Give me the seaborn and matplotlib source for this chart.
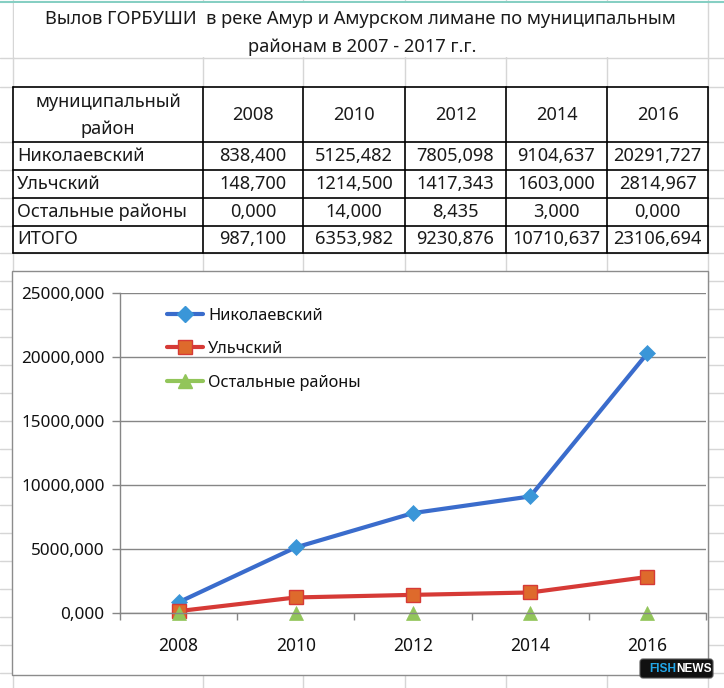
import matplotlib
matplotlib.use('Agg')
import matplotlib.pyplot as plt
import seaborn as sns
import pandas as pd
from matplotlib.lines import Line2D
from matplotlib.patches import Rectangle, FancyBboxPatch
from matplotlib.ticker import FuncFormatter, MultipleLocator

# ---------------- data ----------------
years = ['2008', '2010', '2012', '2014', '2016']
districts = ['Николаевский', 'Ульчский', 'Остальные районы']
nikolaevsky = [838.400, 5125.482, 7805.098, 9104.637, 20291.727]
ulchsky = [148.700, 1214.500, 1417.343, 1603.000, 2814.967]
others = [0.000, 14.000, 8.435, 3.000, 0.000]
total = [987.100, 6353.982, 9230.876, 10710.637, 23106.694]
total_label = 'ИТОГО'
header_label = ['муниципальный', 'район']
title_lines = ['Вылов ГОРБУШИ  в реке Амур и Амурском лимане по муниципальным',
               'районам в 2007 - 2017 г.г.']
y_max, y_step = 25000, 5000


def fmt(v):
    return f"{v:.3f}".replace('.', ',')


sns.set_theme(style='white')
plt.rcParams['font.family'] = ['Noto Sans', 'DejaVu Sans']

W, H = 724, 688
fig = plt.figure(figsize=(W / 100, H / 100), dpi=100)
fig.patch.set_facecolor('white')

# ---------- background "spreadsheet" axes in pixel coordinates ----------
bg = fig.add_axes([0, 0, 1, 1])
bg.set_xlim(0, W)
bg.set_ylim(H, 0)
bg.axis('off')

grid_c = '#d6d6d6'
cols = [13, 203, 303, 405, 506, 607, 708]
rows = [58, 87, 142, 170, 198, 226, 253] + list(range(281, H, 28))
for x in cols:
    bg.plot([x, x], [0, H], color=grid_c, lw=1, zorder=0)
for y in rows:
    bg.plot([0, W], [y, y], color=grid_c, lw=1, zorder=0)
bg.plot([0, W], [1.5, 1.5], color='#86cfc3', lw=1.5, zorder=0)
# merged title block
bg.add_patch(Rectangle((13.6, 3), 693.8, 54.4, facecolor='white',
                       edgecolor='none', zorder=0.5))
bg.text(360, 19, title_lines[0], ha='center', va='center', fontsize=13.2,
        color='#1a1a1a', zorder=2)
bg.text(362, 47, title_lines[1], ha='center', va='center', fontsize=13.2,
        color='#1a1a1a', zorder=2)

# ---------- table ----------
trow = [87, 142, 170, 198, 226, 253]
bg.add_patch(Rectangle((cols[0], trow[0]), cols[-1] - cols[0], trow[-1] - trow[0],
                       facecolor='white', edgecolor='none', zorder=1))
for x in cols:
    bg.plot([x, x], [trow[0], trow[-1]], color='black', lw=1.2, zorder=2)
for y in trow:
    bg.plot([cols[0], cols[-1]], [y, y], color='black', lw=1.2, zorder=2)

tfs = 13.1
bg.text((cols[0] + cols[1]) / 2, 102, header_label[0], ha='center', va='center',
        fontsize=tfs, color='#1a1a1a', zorder=3)
bg.text((cols[0] + cols[1]) / 2, 129, header_label[1], ha='center', va='center',
        fontsize=tfs, color='#1a1a1a', zorder=3)
for j, yr in enumerate(years):
    bg.text((cols[j + 1] + cols[j + 2]) / 2, 115, yr, ha='center', va='center',
            fontsize=tfs, color='#1a1a1a', zorder=3)
row_labels = districts + [total_label]
row_vals = [nikolaevsky, ulchsky, others, total]
for i, (lab, vals) in enumerate(zip(row_labels, row_vals)):
    yc = (trow[i + 1] + trow[i + 2]) / 2
    bg.text(cols[0] + 4, yc, lab, ha='left', va='center', fontsize=tfs,
            color='#1a1a1a', zorder=3)
    for j, v in enumerate(vals):
        bg.text((cols[j + 1] + cols[j + 2]) / 2, yc, fmt(v), ha='center',
                va='center', fontsize=tfs, color='#1a1a1a', zorder=3)

# ---------- chart frame ----------
bg.add_patch(Rectangle((12, 271), 696, 404, facecolor='white',
                       edgecolor='#8c8c8c', lw=1, zorder=1))

# watermark
bg.add_patch(FancyBboxPatch((640, 659), 73, 19, boxstyle='round,pad=0,rounding_size=3',
                            facecolor='#111111', edgecolor='#555555', lw=0.8, zorder=5))
bg.text(676, 669, 'FISH', ha='right', va='center', fontsize=8.6, fontweight='bold',
        color='#22a6e8', family='Liberation Sans', zorder=6)
bg.text(676, 669, 'NEWS', ha='left', va='center', fontsize=8.6, fontweight='bold',
        color='white', family='Liberation Sans', zorder=6)

# ---------- line chart ----------
ax = fig.add_axes([120 / W, (H - 613) / H, 586 / W, 320 / H])
ax.patch.set_alpha(0)
pos = list(range(len(years)))

blue_line, blue_mark = '#3a6ccc', '#3a96d8'
red_line, red_mark = '#d63a36', '#de6a2c'
green = '#92c55a'

sns.lineplot(data=pd.DataFrame({'pos': pos, 'v': nikolaevsky}), x='pos', y='v', ax=ax,
             color=blue_line, lw=3, marker='D', markersize=8.5,
             markerfacecolor=blue_mark, markeredgecolor=blue_mark, markeredgewidth=0.5,
             legend=False, zorder=4)
sns.lineplot(data=pd.DataFrame({'pos': pos, 'v': ulchsky}), x='pos', y='v', ax=ax,
             color=red_line, lw=3, marker='s', markersize=10,
             markerfacecolor=red_mark, markeredgecolor=red_line, markeredgewidth=1,
             legend=False, zorder=4)
sns.lineplot(data=pd.DataFrame({'pos': pos, 'v': others}), x='pos', y='v', ax=ax,
             color=green, linestyle='none', marker='^', markersize=10,
             markerfacecolor=green, markeredgecolor=green, markeredgewidth=0.5,
             legend=False, zorder=4)
for ln in ax.get_lines():
    ln.set_clip_on(False)

ax.set_xlim(-0.5, len(years) - 0.5)
ax.set_ylim(0, y_max)
ax.yaxis.set_major_locator(MultipleLocator(y_step))
ax.yaxis.set_major_formatter(FuncFormatter(lambda v, p: fmt(v)))
ax.set_xticks(pos)
ax.set_xticklabels(years)
ax.set_xticks([p - 0.5 for p in range(len(years) + 1)], minor=True)
ax.set_xlabel('')
ax.set_ylabel('')

axis_c = '#868686'
ax.yaxis.grid(True, color=axis_c, lw=1)
ax.xaxis.grid(False)
ax.set_axisbelow(True)
for s in ['top', 'right']:
    ax.spines[s].set_visible(False)
for s in ['left', 'bottom']:
    ax.spines[s].set_color(axis_c)
    ax.spines[s].set_linewidth(1)
    ax.spines[s].set_zorder(5)

ax.tick_params(axis='x', which='major', length=0, pad=17, labelsize=12.5, labelcolor='#111111')
ax.tick_params(axis='x', which='minor', length=5, width=1, color=axis_c, direction='out',
               bottom=True)
ax.tick_params(axis='y', which='major', length=6, width=1, color=axis_c, direction='out',
               pad=5, labelsize=12.3, labelcolor='#111111', left=True)

handles = [
    Line2D([], [], color=blue_line, lw=3, marker='D', markersize=8.5,
           markerfacecolor=blue_mark, markeredgecolor=blue_mark),
    Line2D([], [], color=red_line, lw=3, marker='s', markersize=10,
           markerfacecolor=red_mark, markeredgecolor=red_line),
    Line2D([], [], color=green, lw=3, marker='^', markersize=10,
           markerfacecolor=green, markeredgecolor=green),
]
lfs = 11.8
fpx = lfs * 100 / 72
ax.legend(handles, districts, loc='upper left',
          bbox_to_anchor=(167 / W, 1 - 307.5 / H), bbox_transform=fig.transFigure,
          frameon=False, borderpad=0, borderaxespad=0, fontsize=lfs,
          handlelength=36 / fpx, handletextpad=5 / fpx, labelspacing=1.08,
          labelcolor='#111111')

fig.savefig('out.png', dpi=100)
